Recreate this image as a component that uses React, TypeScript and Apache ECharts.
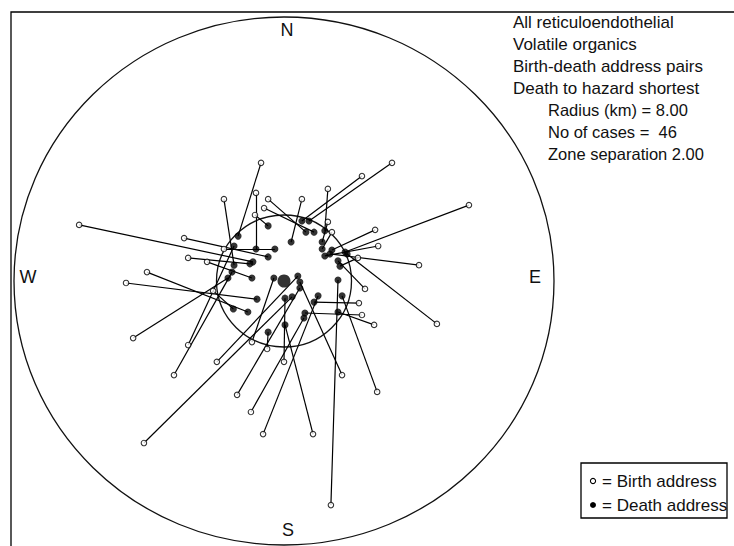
import React, { useEffect, useRef } from "react";
import * as echarts from "echarts";

// Coordinates in km relative to the hazard site (x = east, y = north)
const birthAddresses: [number, number][] = [
  [-6.07, 1.7], [-2.96, 1.3], [-1.78, 2.48], [-2.84, 0.7], [-2.28, 0.58],
  [-4.06, 0.27], [-4.68, -0.06], [-4.47, -1.73], [-2.84, -1.94], [-3.26, -2.85],
  [-4.15, -4.91], [-1.99, -2.45], [-1.39, -3.45], [-0.98, -3.97], [-0.62, -4.64],
  [0.86, -4.64], [1.39, -6.79], [1.72, -2.85], [2.76, -3.36], [4.53, -1.3],
  [2.67, -1.33], [2.31, -1.03], [2.22, -0.67], [2.4, -0.24], [4.0, 0.48],
  [5.48, 2.3], [2.79, 1.06], [2.7, 1.55], [3.2, 3.58], [2.31, 3.18],
  [1.3, 2.79], [0.53, 2.48], [-0.47, 2.48], [-0.59, 2.21], [-0.86, 2.0],
  [-0.83, 2.67], [-0.68, 3.58], [1.3, 1.79], [2.19, 0.7], [0.0, -2.45],
  [-0.5, -2.06], [-1.78, 0.97], [-0.95, -1.85], [1.42, 1.48], [-2.1, -0.3],
];
const deathAddresses: [number, number][] = [
  [-0.92, 0.58], [-0.47, 0.73], [-1.48, 0.48], [-1.01, 0.52], [-0.95, 0.09],
  [-1.07, -0.94], [-0.8, -0.55], [-1.66, 0.09], [-1.48, 1.06], [-1.54, 0.27],
  [0.24, -0.48], [0.41, 0.15], [0.47, -0.21], [0.59, -1.12], [1.01, -0.45],
  [0.03, -1.33], [1.6, 0.03], [0.47, -0.03], [1.72, -0.45], [1.87, 0.82],
  [1.6, -0.94], [0.62, -0.97], [0.89, -0.64], [1.6, 0.61], [1.36, 0.82],
  [1.81, 0.88], [1.21, 0.76], [1.42, 0.94], [0.74, 1.82], [0.53, 1.82],
  [1.21, 1.52], [0.21, 1.18], [0.65, 1.48], [0.89, 1.48], [-0.47, 1.67],
  [-0.83, 0.97], [-1.36, 1.36], [1.13, 1.18], [1.66, 0.45], [0.03, -0.52],
  [-0.47, -1.55], [-0.27, 0.97], [-0.3, 0.09], [1.13, 0.97], [-1.5, -0.85],
];
const hazardSite: [number, number] = [0, 0];
const zoneRadiiKm = [8, 2];
const compassLabels = ["N", "E", "S", "W"];
const infoLines = [
  "All reticuloendothelial",
  "Volatile organics",
  "Birth-death address pairs",
  "Death to hazard shortest",
];
const statLines = ["Radius (km) = 8.00", "No of cases =  46", "Zone separation 2.00"];
const legendLabels = ["= Birth address", "= Death address"];

const FONT = '"Liberation Sans", Arial, Helvetica, sans-serif';

export default function App() {
  const ref = useRef<HTMLDivElement>(null);
  useEffect(() => {
    document.body.style.margin = "0";
    const chart = echarts.init(ref.current!, null, { renderer: "svg" });
    const pairs = birthAddresses.map((b, i) => ({ coords: [b, deathAddresses[i]] }));
    const fs = 17;
    const compassPos: Record<string, [number, number]> = {
      N: [287, 30],
      E: [535, 277],
      S: [288, 530],
      W: [28, 277],
    };
    const graphics: any[] = [
      {
        type: "rect",
        shape: { x: 11, y: 12, width: 900, height: 900 },
        style: { fill: "none", stroke: "#000", lineWidth: 1.3 },
        silent: true,
      },
      ...compassLabels.map((c) => ({
        type: "text",
        x: compassPos[c][0],
        y: compassPos[c][1],
        style: { text: c, font: `${fs + 1}px ${FONT}`, fill: "#111", align: "center", verticalAlign: "middle" },
      })),
      ...infoLines.map((t, i) => ({
        type: "text",
        x: 513,
        y: 22 + i * 22,
        style: { text: t, font: `${fs}px ${FONT}`, fill: "#111", verticalAlign: "middle" },
      })),
      ...statLines.map((t, i) => ({
        type: "text",
        x: 548,
        y: 110 + i * 22,
        style: { text: t, font: `16.5px ${FONT}`, fill: "#111", verticalAlign: "middle" },
      })),
      {
        type: "rect",
        shape: { x: 581, y: 463, width: 146, height: 55 },
        style: { fill: "#fff", stroke: "#000", lineWidth: 1.3 },
      },
      { type: "circle", shape: { cx: 593, cy: 481, r: 2.6 }, style: { fill: "#fff", stroke: "#000", lineWidth: 1.1 } },
      { type: "circle", shape: { cx: 593, cy: 505, r: 3 }, style: { fill: "#000" } },
      ...legendLabels.map((t, i) => ({
        type: "text",
        x: 602,
        y: 481 + i * 24,
        style: { text: t, font: `${fs}px ${FONT}`, fill: "#111", verticalAlign: "middle" },
      })),
    ];
    chart.setOption({
      animation: false,
      backgroundColor: "#fff",
      grid: { left: 14, top: 17, width: 540, height: 528 },
      xAxis: { type: "value", min: -8, max: 8, show: false },
      yAxis: { type: "value", min: -8, max: 8, show: false },
      graphic: graphics,
      series: [
        {
          type: "custom",
          silent: true,
          clip: false,
          data: zoneRadiiKm.map((r) => [hazardSite[0], hazardSite[1], r]),
          renderItem: (params: any, api: any) => {
            const c = api.coord([api.value(0), api.value(1)]);
            const s = api.size([api.value(2), api.value(2)]);
            return {
              type: "ellipse",
              shape: { cx: c[0], cy: c[1], rx: s[0], ry: s[1] },
              style: { fill: "none", stroke: "#111", lineWidth: 1.3 },
            };
          },
        },
        {
          type: "lines",
          coordinateSystem: "cartesian2d",
          silent: true,
          data: pairs,
          lineStyle: { color: "#000", width: 1.2, opacity: 1 },
        },
        {
          type: "scatter",
          silent: true,
          data: deathAddresses,
          symbol: "circle",
          symbolSize: 7,
          itemStyle: { color: "#000" },
        },
        {
          type: "scatter",
          silent: true,
          data: [hazardSite],
          symbol: "circle",
          symbolSize: 13,
          itemStyle: { color: "#000" },
        },
        {
          type: "scatter",
          silent: true,
          data: birthAddresses,
          symbol: "circle",
          symbolSize: 5.5,
          itemStyle: { color: "#fff", borderColor: "#000", borderWidth: 1.1 },
        },
      ],
    });
    return () => chart.dispose();
  }, []);
  return <div ref={ref} style={{ width: 734, height: 546, background: "#fff" }} />;
}
